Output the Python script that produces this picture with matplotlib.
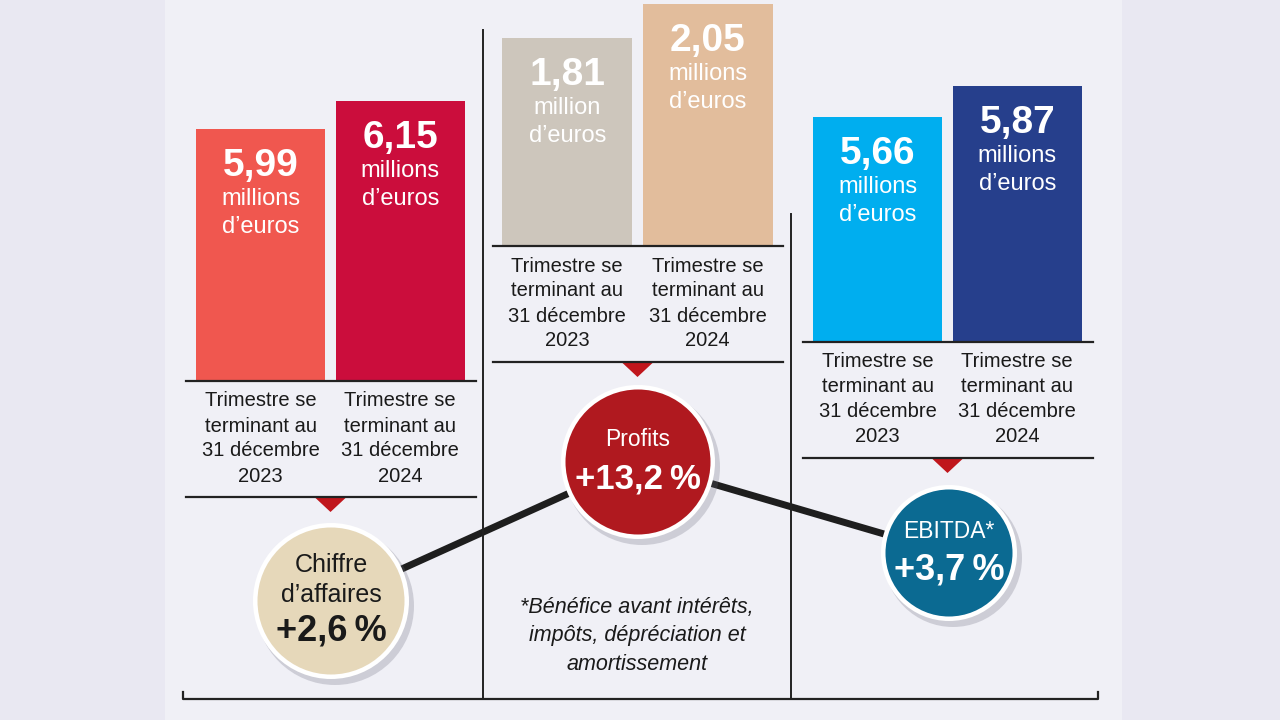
import matplotlib
matplotlib.use('Agg')
import matplotlib.pyplot as plt
from matplotlib.patches import Circle, Rectangle, Polygon

plt.rcParams['font.family'] = ['Liberation Sans', 'DejaVu Sans']

# data
periods = ['2023', '2024']
period_lines = ['Trimestre se', 'terminant au', '31 décembre']
revenue = [5.99, 6.15]
profits = [1.81, 2.05]
ebitda = [5.66, 5.87]
change_pct = [2.6, 13.2, 3.7]
change_titles = [['Chiffre', 'd’affaires'], ['Profits'], ['EBITDA*']]
footnote = ['*Bénéfice avant intérêts,', 'impôts, dépréciation et', 'amortissement']

W, H = 1280, 720
fig = plt.figure(figsize=(12.8, 7.2), dpi=100)
fig.patch.set_facecolor('#e9e8f2')

# background panel
bg = fig.add_axes([0, 0, 1, 1], zorder=-1)
bg.set_xlim(0, W)
bg.set_ylim(H, 0)
bg.axis('off')
bg.add_patch(Rectangle((165, 0), 957, H, color='#f0f0f6', lw=0))

# group layout: (left px, right px, baseline px, axis floor, px per unit, colours)
groups = [
    (revenue, 191, 470, 381, 4.55, 175.0, ['#f0574f', '#cb0d3c']),
    (profits, 497, 778, 246, 0.342, 141.7, ['#cdc6bc', '#e2bd9c']),
    (ebitda, 808, 1087, 342, 4.136, 147.6, ['#00aeef', '#263f8c']),
]

def fmt(v):
    return f'{v:.2f}'.replace('.', ',')

for values, x0, x1, base, floor, ppu, colors in groups:
    ax = fig.add_axes([x0 / W, 1 - base / H, (x1 - x0) / W, base / H])
    ax.patch.set_alpha(0)
    ax.set_xlim(-0.5, 1.5)
    ax.set_ylim(floor, floor + base / ppu)
    ax.axis('off')
    ax.bar(range(len(values)), values, width=0.925, color=colors, bottom=0)
    for i, v in enumerate(values):
        unit = 'million' if v < 2 else 'millions'
        ax.annotate(fmt(v), xy=(i, v), xytext=(0, -37), textcoords='offset pixels',
                    ha='center', va='center', color='white', fontsize=28, fontweight='bold')
        ax.annotate(unit, xy=(i, v), xytext=(0, -70), textcoords='offset pixels',
                    ha='center', va='center', color='white', fontsize=17)
        ax.annotate('d’euros', xy=(i, v), xytext=(0, -98), textcoords='offset pixels',
                    ha='center', va='center', color='white', fontsize=17)
        for k, line in enumerate(period_lines + [periods[i]]):
            ax.annotate(line, xy=(i, floor), xytext=(0, -20 - 25 * k), textcoords='offset pixels',
                        ha='center', va='center', color='#1a1a1a', fontsize=14.5,
                        annotation_clip=False)

# overlay: rules, dividers, connectors, circles
ov = fig.add_axes([0, 0, 1, 1], zorder=5)
ov.set_xlim(0, W)
ov.set_ylim(H, 0)
ov.axis('off')
ov.patch.set_alpha(0)

for values, x0, x1, base, floor, ppu, colors in groups:
    cx = (x0 + x1) / 2
    low = base + 116
    ov.plot([cx - 145, cx + 145], [base, base], color='#222222', lw=1.6)
    ov.plot([cx - 145, cx + 145], [low, low], color='#222222', lw=1.6)
    ov.add_patch(Polygon([(cx - 15, low + 1), (cx + 15, low + 1), (cx, low + 15)],
                         closed=True, color='#c0161c', lw=0))

# dividers and bottom rule
ov.plot([483, 483], [30, 699], color='#222222', lw=1.4)
ov.plot([791, 791], [214, 699], color='#222222', lw=1.4)
ov.plot([183, 183, 1098, 1098], [692, 699, 699, 692], color='#222222', lw=1.6)

circles = [
    (331, 601, 78, '#e6d8ba', '#1a1a1a'),
    (638, 462, 77, '#b0191f', 'white'),
    (949, 553, 68, '#0b6a92', 'white'),
]

ov.plot([c[0] for c in circles], [c[1] for c in circles], color='#1e1e1e', lw=5,
        solid_capstyle='round', zorder=1)

for (x, y, r, fill, tc), titles, pct in zip(circles, change_titles, change_pct):
    ov.add_patch(Circle((x + 4, y + 5), r + 1, color='#666677', alpha=0.25, lw=0, zorder=2))
    ov.add_patch(Circle((x, y), r, color='white', lw=0, zorder=3))
    ov.add_patch(Circle((x, y), r - 4.5, color=fill, lw=0, zorder=4))
    label = '+' + f'{pct:.1f}'.replace('.', ',') + '\u2009%'
    if len(titles) == 2:
        ov.text(x, y - 36, titles[0], ha='center', va='center', color=tc, fontsize=18, zorder=5)
        ov.text(x, y - 6, titles[1], ha='center', va='center', color=tc, fontsize=18, zorder=5)
        ov.text(x, y + 30, label, ha='center', va='center', color=tc, fontsize=26,
                fontweight='bold', zorder=5)
    else:
        ov.text(x, y - 22, titles[0], ha='center', va='center', color=tc, fontsize=16.5, zorder=5)
        ov.text(x, y + 17, label, ha='center', va='center', color=tc, fontsize=26 if pct < 10 else 25,
                fontweight='bold', zorder=5)

for k, line in enumerate(footnote):
    ov.text(637, 608 + 28 * k, line, ha='center', va='center', color='#1a1a1a',
            fontsize=15.5, fontstyle='italic')

fig.savefig('out.png', dpi=100, facecolor=fig.get_facecolor())
